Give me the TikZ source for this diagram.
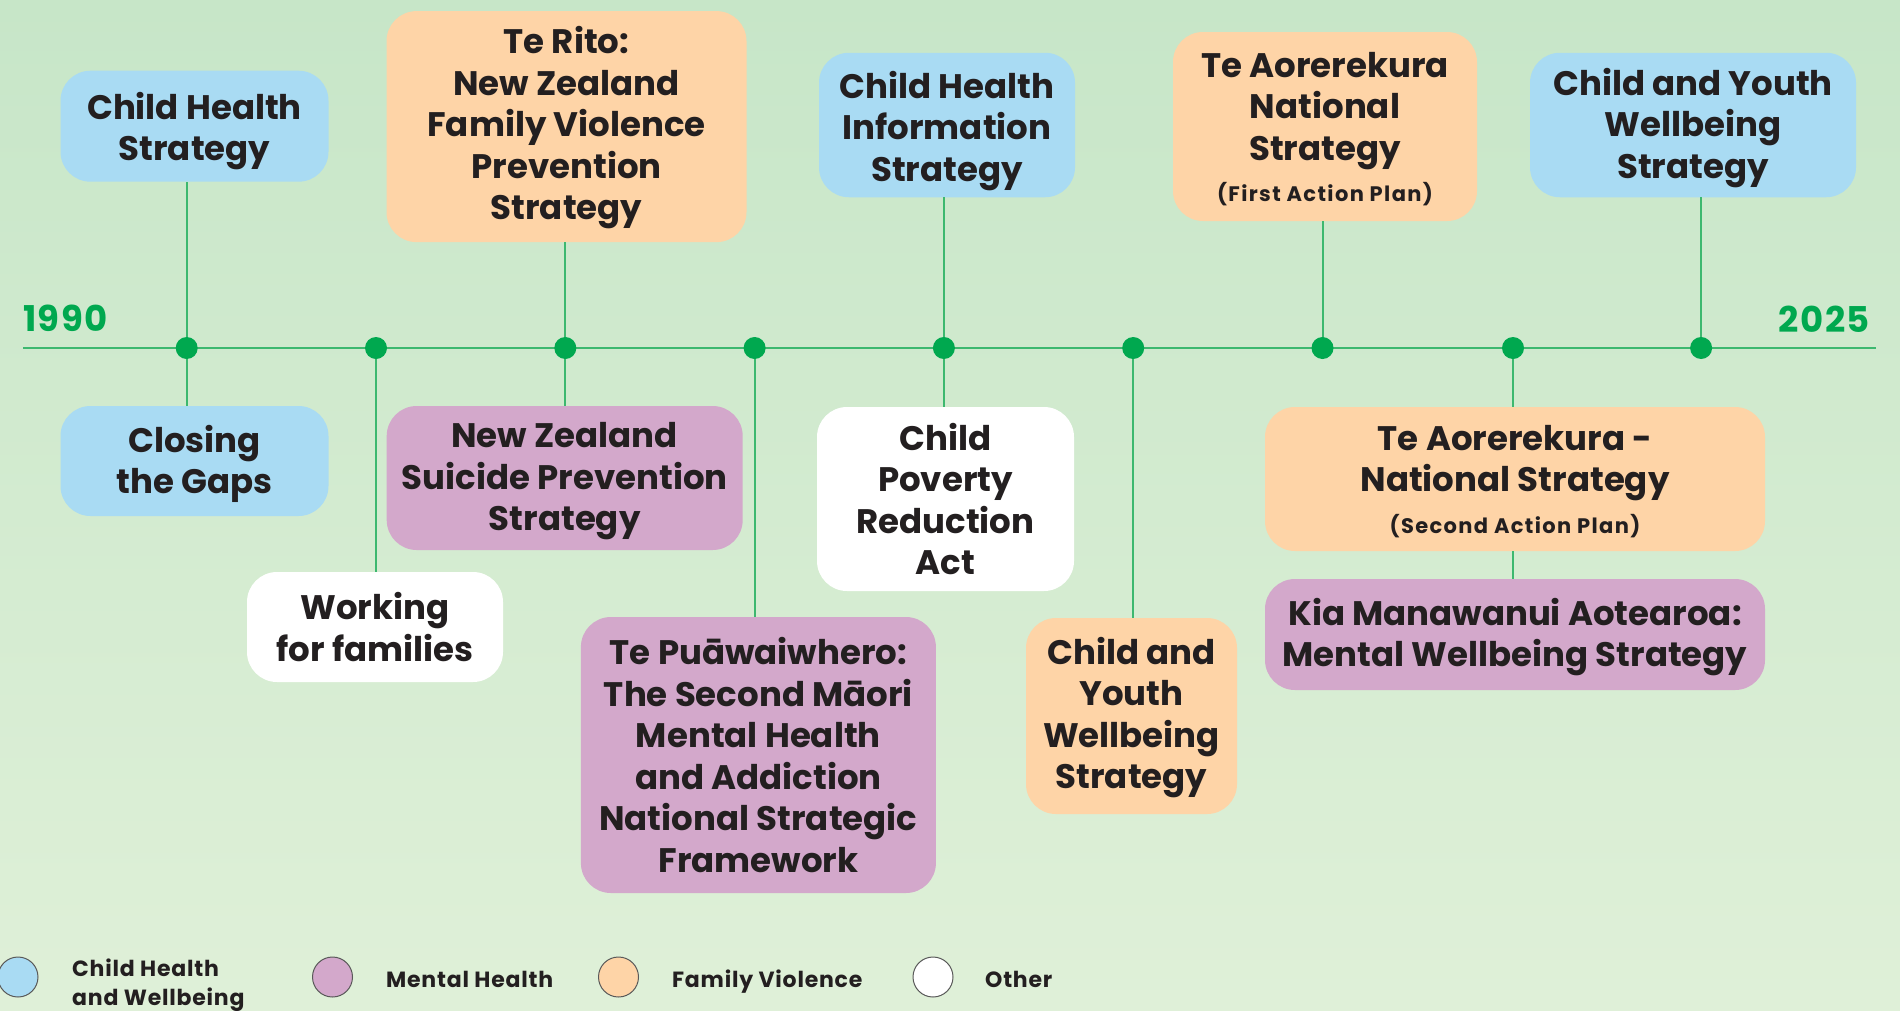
\documentclass[tikz,border=0pt]{standalone}
\usepackage{fontspec}
\setmainfont{Poppins}
\definecolor{bgtop}{HTML}{C7E6C8}
\definecolor{bgbot}{HTML}{DFF0D8}
\definecolor{cblue}{HTML}{A9DBF3}
\definecolor{corange}{HTML}{FED4A7}
\definecolor{cpurple}{HTML}{D3A8CB}
\definecolor{ink}{HTML}{231F20}
\definecolor{lgreen}{HTML}{3DB86F}
\definecolor{dgreen}{HTML}{00A84F}
\tikzset{
  box/.style={rounded corners=30pt, inner sep=0pt, align=center, text=ink,
    font=\fontsize{34}{41.5}\selectfont\bfseries},
  conn/.style={draw=lgreen, line width=2pt},
  tdot/.style={circle, fill=dgreen, inner sep=0pt, minimum size=22pt},
  year/.style={text=dgreen, font=\fontsize{35.5}{40}\selectfont\bfseries\addfontfeatures{LetterSpace=4}, inner sep=0pt},
  legcirc/.style={circle, draw=black!65, line width=1pt, minimum size=40pt, inner sep=0pt},
  legtext/.style={text=ink, font=\fontsize{22}{29}\selectfont\bfseries\addfontfeatures{LetterSpace=3.5}, inner sep=0pt, align=left},
}
\newcommand{\smalltxt}[1]{{\fontsize{21}{41.5}\selectfont\addfontfeatures{LetterSpace=6.5}#1}}
\newcommand{\fh}[1]{\rule{0pt}{#1pt}}
\begin{document}
\begin{tikzpicture}[x=1pt,y=-1pt]
\useasboundingbox (0,0) rectangle (1900,1010);
\shade[top color=bgtop, bottom color=bgbot] (0,0) rectangle (1900,1010);

% timeline
\coordinate (tl) at (23,348);
\coordinate (tr) at (1876,348);
\draw[conn] (tl) -- (tr);
\node[year, anchor=base west] (y1990) at (23,331) {1990};
\node[year, anchor=base east] (y2025) at (1870,332) {2025};

% boxes
\node[box, fill=cblue, minimum width=268pt, minimum height=111pt] (chs) at (194.5,126.2) {\fh{37}Child Health\\Strategy};
\node[box, fill=cblue, minimum width=268pt, minimum height=110pt] (ctg) at (194.5,461) {\fh{33}Closing\\the Gaps};
\node[box, fill=white, minimum width=256pt, minimum height=110pt] (wff) at (375,627) {\fh{27}Working\\for families};
\node[box, fill=corange, minimum width=360pt, minimum height=231pt] (rito) at (566.5,126.6) {\fh{30}Te Rito:\\New Zealand\\Family Violence\\Prevention\\Strategy};
\node[box, fill=cpurple, minimum width=356pt, minimum height=144pt] (nzsps) at (564.7,478) {\fh{32}New Zealand\\Suicide Prevention\\Strategy};
\node[box, fill=cpurple, minimum width=355pt, minimum height=276pt] (tpw) at (758.4,755) {\fh{27}Te Puāwaiwhero:\\The Second Māori\\Mental Health\\and Addiction\\National Strategic\\Framework};
\node[box, fill=cblue, minimum width=256pt, minimum height=144.5pt] (chis) at (947,125) {\fh{39}Child Health\\Information\\Strategy};
\node[box, fill=white, minimum width=257pt, minimum height=184pt] (cpra) at (945.5,499) {\fh{26}Child\\Poverty\\Reduction\\Act};
\node[box, fill=corange, minimum width=211pt, minimum height=196pt] (cyws1) at (1131.5,716) {\fh{30}Child and\\Youth\\Wellbeing\\Strategy};
\node[box, fill=corange, minimum width=304pt, minimum height=189pt] (tan1) at (1325,126.5) {\fh{30}Te Aorerekura\\National\\Strategy\\\smalltxt{(First Action Plan)}};
\node[box, fill=corange, minimum width=500pt, minimum height=144pt] (tan2) at (1515,479) {\fh{30}Te Aorerekura -\\National Strategy\\\smalltxt{(Second Action Plan)}};
\node[box, fill=cpurple, minimum width=500pt, minimum height=111pt] (kma) at (1515,634.5) {\fh{32}Kia Manawanui Aotearoa:\\Mental Wellbeing Strategy};
\node[box, fill=cblue, minimum width=326pt, minimum height=144.5pt] (cyws2) at (1693,125) {\fh{33}Child and Youth\\Wellbeing\\Strategy};

% timeline points
\coordinate (d1) at (186.7,348);
\coordinate (d2) at (376,348);
\coordinate (d3) at (565.3,348);
\coordinate (d4) at (754.6,348);
\coordinate (d5) at (943.9,348);
\coordinate (d6) at (1133.2,348);
\coordinate (d7) at (1322.5,348);
\coordinate (d8) at (1513,348);
\coordinate (d9) at (1701.1,348);

% connectors
\draw[conn] (d1) -- (d1 |- chs.south);
\draw[conn] (d1) -- (d1 |- ctg.north);
\draw[conn] (d2) -- (d2 |- wff.north);
\draw[conn] (d3) -- (d3 |- rito.south);
\draw[conn] (d3) -- (d3 |- nzsps.north);
\draw[conn] (d4) -- (d4 |- tpw.north);
\draw[conn] (d5) -- (d5 |- chis.south);
\draw[conn] (d5) -- (d5 |- cpra.north);
\draw[conn] (d6) -- (d6 |- cyws1.north);
\draw[conn] (d7) -- (d7 |- tan1.south);
\draw[conn] (d8) -- (d8 |- tan2.north);
\draw[conn] (d8 |- tan2.south) -- (d8 |- kma.north);
\draw[conn] (d9) -- (d9 |- cyws2.south);

\foreach \d in {d1,d2,d3,d4,d5,d6,d7,d8,d9}
  \node[tdot] (dot-\d) at (\d) {};

% legend
\node[legcirc, fill=cblue] (lc1) at (18,977) {};
\node[legcirc, fill=cpurple] (lc2) at (332.5,977) {};
\node[legcirc, fill=corange] (lc3) at (618.5,977) {};
\node[legcirc, fill=white] (lc4) at (933,977) {};
\node[legtext, anchor=base west] (lt1) at (72,1005) {Child Health\\and Wellbeing};
\node[legtext, anchor=base west] (lt2) at (386,987) {Mental Health};
\node[legtext, anchor=base west] (lt3) at (672,987) {Family Violence};
\node[legtext, anchor=base west] (lt4) at (985,987) {Other};
\end{tikzpicture}
\end{document}
